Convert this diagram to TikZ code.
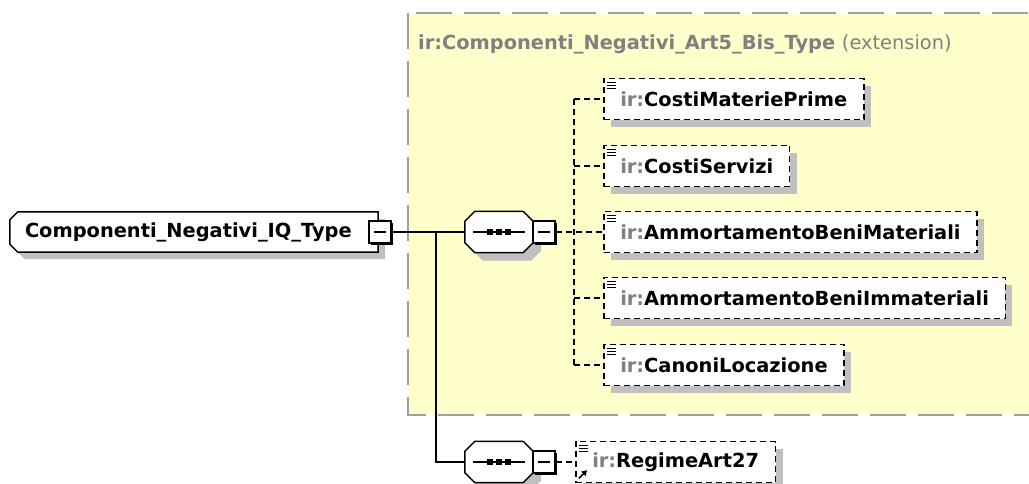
\documentclass[tikz,border=0pt]{standalone}
\usepackage{fontspec}
\setmainfont{DejaVu Sans}
\usetikzlibrary{calc,arrows.meta,shadows}
\definecolor{extyellow}{RGB}{255,255,204}
\definecolor{extborder}{RGB}{160,160,160}
\definecolor{shadowgray}{RGB}{192,192,192}
\definecolor{prefixgray}{RGB}{128,128,128}
\newcommand{\irpre}{\textcolor{prefixgray}{ir:}}
% outline with chamfers: node, left chamfer, right chamfer, x offset, y offset
\newcommand{\chamfpath}[5]{($(#1.north west)+(#2+#4,#5)$) -- ($(#1.north east)+(-#3+#4,#5)$)
  -- ($(#1.north east)+(#4,#3+#5)$) -- ($(#1.south east)+(#4,-#3+#5)$)
  -- ($(#1.south east)+(-#3+#4,#5)$) -- ($(#1.south west)+(#2+#4,#5)$)
  -- ($(#1.south west)+(#4,-#2+#5)$) -- ($(#1.north west)+(#4,#2+#5)$) -- cycle}
\pgfdeclarelayer{bg}
\pgfdeclarelayer{mid}
\pgfsetlayers{bg,mid,main}

\begin{document}
\begin{tikzpicture}[x=1pt,y=-1pt,>=Latex,
  every node/.style={font=\fontsize{19.4}{23}\selectfont\bfseries},
  xsdshadow/.style={drop shadow={shadow xshift=7pt,shadow yshift=-7pt,fill=shadowgray,opacity=1}},
  rootbox/.style={rectangle,minimum height=40pt,text width=338pt,inner xsep=15pt,inner ysep=0pt},
  seqbox/.style={rectangle,minimum width=68pt,minimum height=41pt,inner sep=0pt},
  minusbox/.style={rectangle,draw,line width=1.3pt,fill=white,minimum size=22pt,inner sep=0pt,
    drop shadow={shadow xshift=2pt,shadow yshift=-2pt,fill=black,opacity=1},
    path picture={\draw[line width=1.3pt] ($(path picture bounding box.west)+(5,0)$)
      -- ($(path picture bounding box.east)+(-5,0)$);}},
  elembox/.style={rectangle,draw,dash pattern=on 6pt off 4pt,line width=1.5pt,fill=white,
    minimum height=41pt,inner xsep=16.5pt,inner ysep=0pt,anchor=west,xsdshadow},
  conn/.style={line width=1.6pt},
  dconn/.style={line width=1.6pt,dash pattern=on 6pt off 4pt},
  extbox/.style={draw=extborder,fill=extyellow,line width=2pt,dash pattern=on 36pt off 12pt}]

  \useasboundingbox (0,0) rectangle (1029,483);
  \clip (0,0) rectangle (1029,483);

  % extension container
  \begin{pgfonlayer}{bg}
    \fill[white] (0,0) rectangle (1029,483);
    \draw[extbox] (408,13) rectangle (1060,415);
  \end{pgfonlayer}
  \node[anchor=west,text=prefixgray,inner sep=0pt] (exttitle) at (418,44)
    {ir:Componenti\_Negativi\_Art5\_Bis\_Type \mdseries(extension)};

  % root type
  \node[rootbox] (root) at (194,232) {Componenti\_Negativi\_IQ\_Type};
  \node[minusbox] (rootminus) at (380,232) {};

  % sequences
  \node[seqbox] (seq1) at (499,232) {};
  \node[minusbox] (seq1minus) at (544,232) {};
  \node[seqbox] (seq2) at (499,462) {};
  \node[minusbox] (seq2minus) at (544,462) {};

  \begin{pgfonlayer}{mid}
    \fill[shadowgray] \chamfpath{root}{8}{0}{7}{7};
    \filldraw[fill=white,line width=1.5pt] \chamfpath{root}{8}{0}{0}{0};
    \foreach \n in {seq1,seq2} {
      \fill[shadowgray] \chamfpath{\n}{10}{10}{8}{8};
      \filldraw[fill=white,line width=1.5pt] \chamfpath{\n}{10}{10}{0}{0};
    }
  \end{pgfonlayer}
  \foreach \n in {seq1,seq2} {
    \draw[line width=1.5pt] ($(\n.center)+(-26,0)$) -- ($(\n.center)+(26,0)$);
    \foreach \dx in {-9,0,9}
      \fill ($(\n.center)+(\dx-3,-3)$) rectangle ($(\n.center)+(\dx+3,3)$);
  }

  % elements
  \node[elembox] (cmp) at (603,99) {\irpre CostiMateriePrime};
  \node[elembox] (cs)  at (603,166) {\irpre CostiServizi};
  \node[elembox] (abm) at (603,232) {\irpre AmmortamentoBeniMateriali};
  \node[elembox] (abi) at (603,298) {\irpre AmmortamentoBeniImmateriali};
  \node[elembox] (cl)  at (603,365) {\irpre CanoniLocazione};
  \node[elembox] (ra)  at (575,462) {\irpre RegimeArt27};

  % list icons
  \foreach \n in {cmp,cs,abm,abi,cl,ra}
    \draw[line width=1.2pt] ($(\n.north west)+(4,5)$) -- ++(9,0)
      ($(\n.north west)+(4,8)$) -- ++(9,0)
      ($(\n.north west)+(4,11)$) -- ++(9,0);
  \draw[line width=1.6pt,-{Triangle[length=5pt,width=6pt]}] ($(ra.south west)+(4,-5)$) -- ++(8,-8);

  % connectors
  \coordinate (split) at (436,232);
  \coordinate (bus) at (574,232);
  \draw[conn] (rootminus.east) -- (seq1.west);
  \draw[conn] (split) |- (seq2.west);
  \draw[dconn] (seq1minus.east) -- (abm.west);
  \draw[dconn] (bus |- cmp.west) -- (bus |- cl.west);
  \foreach \n in {cmp,cs,abi,cl}
    \draw[dconn] (bus |- \n.west) -- (\n.west);
  \draw[dconn] (seq2minus.east) -- (ra.west);
\end{tikzpicture}
\end{document}
